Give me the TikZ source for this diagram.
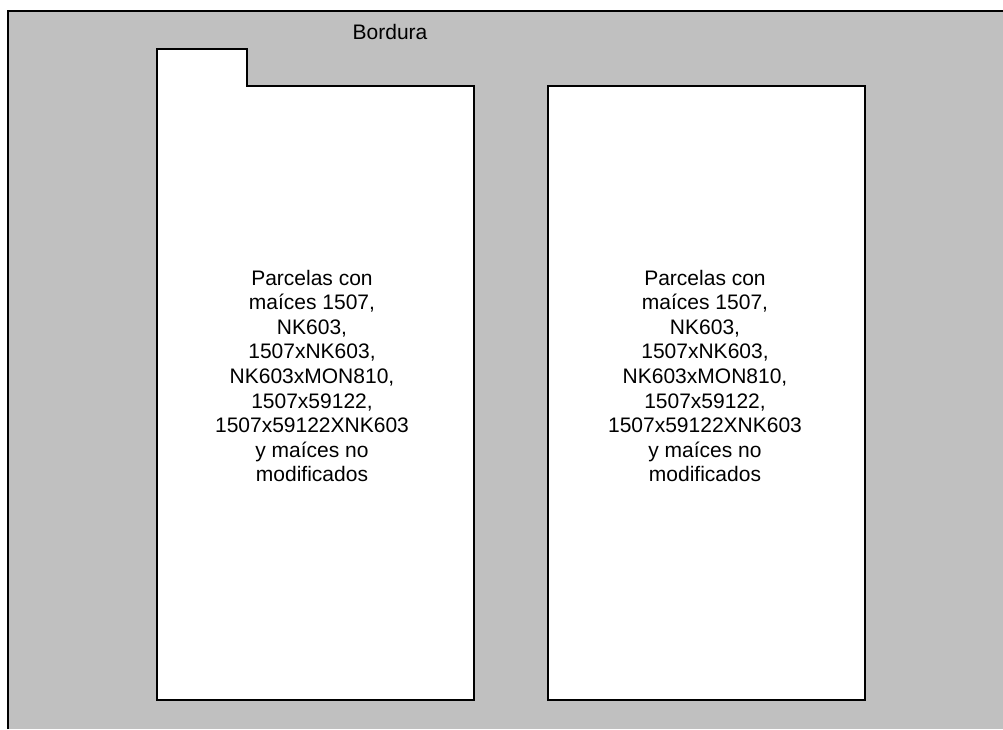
\documentclass[tikz,border=0pt]{standalone}
\usepackage{fontspec}
\setmainfont{Liberation Sans}
\definecolor{bordergray}{HTML}{C0C0C0}
\begin{document}
\begin{tikzpicture}[x=1pt,y=-1pt,
  plot/.style={fill=white,draw=black,line width=1.6pt},
  label/.style={font=\fontsize{21}{24.6}\selectfont,align=center,inner sep=0pt}]
\useasboundingbox (0,0) rectangle (1003,729);
\fill[bordergray] (8,11) rectangle (1003,729);
\draw[line width=1.6pt] (8,729) -- (8,11) -- (1003,11);
\draw[plot] (157,49) -- (247,49) -- (247,86) -- (474,86) -- (474,700) -- (157,700) -- cycle;
\draw[plot] (548,86) rectangle (865,700);
\node[label] (bordura) at (390,32) {Bordura};
\node[label] (left) at (312,376) {Parcelas con\\ maíces 1507,\\ NK603,\\ 1507xNK603,\\ NK603xMON810,\\ 1507x59122,\\ 1507x59122XNK603\\ y maíces no\\ modificados};
\node[label] (right) at (705,376) {Parcelas con\\ maíces 1507,\\ NK603,\\ 1507xNK603,\\ NK603xMON810,\\ 1507x59122,\\ 1507x59122XNK603\\ y maíces no\\ modificados};
\end{tikzpicture}
\end{document}
